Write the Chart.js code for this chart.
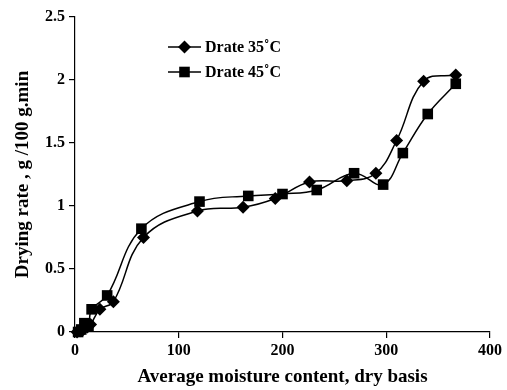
<!DOCTYPE html>
<html>
<head>
<meta charset="utf-8">
<script src="https://cdn.jsdelivr.net/npm/chart.js@4"></script>
<style>
  body { margin: 0; background: #fff; }
  #wrap { width: 507px; height: 390px; }
</style>
</head>
<body>
<div id="wrap"><canvas id="rate-chart" width="507" height="390"></canvas></div>
<script>
// values
const moisture35 = [2, 5, 8, 12, 15, 24, 37, 66, 118, 162, 193, 226, 262, 290, 310, 336, 367];
const rate35 = [0, 0.01, 0.02, 0.04, 0.06, 0.18, 0.24, 0.75, 0.96, 0.99, 1.06, 1.19, 1.20, 1.26, 1.52, 1.99, 2.04];
const moisture45 = [3, 6, 9, 13, 16, 31, 64, 120, 167, 200, 233, 269, 297, 316, 340, 367];
const rate45 = [0, 0.02, 0.07, 0.05, 0.18, 0.29, 0.82, 1.035, 1.08, 1.095, 1.127, 1.26, 1.17, 1.42, 1.73, 1.97];
const seriesNames = ['Drate 35\u02DAC', 'Drate 45\u02DAC'];
const xTicks = [0, 100, 200, 300, 400];
const yTicks = [0, 0.5, 1, 1.5, 2, 2.5];

const fontFamily = '"Liberation Serif", "Times New Roman", serif';

function toPoints(xs, ys) {
    return xs.map((x, i) => ({ x: x, y: ys[i] }));
}

// legend drawn inside the plot, like the original
const insideLegend = {
    id: 'insideLegend',
    afterDatasetsDraw(chart) {
        const ctx = chart.ctx;
        const rows = [
            { y: 47, style: 'rectRot', radius: 6.5 },
            { y: 72, style: 'rect', radius: 7.5 }
        ];
        ctx.save();
        rows.forEach((row, i) => {
            ctx.strokeStyle = '#000';
            ctx.lineWidth = 1.5;
            ctx.beginPath();
            ctx.moveTo(168, row.y);
            ctx.lineTo(201, row.y);
            ctx.stroke();
            ctx.fillStyle = '#000';
            Chart.helpers.drawPoint(ctx, { pointStyle: row.style, radius: row.radius, borderWidth: 0 }, 184.5, row.y);
            ctx.font = 'bold 16px ' + fontFamily;
            ctx.textBaseline = 'middle';
            ctx.textAlign = 'left';
            ctx.fillText(seriesNames[i], 205, row.y + 1);
        });
        ctx.restore();
    }
};

new Chart(document.getElementById('rate-chart'), {
    type: 'scatter',
    data: {
        datasets: [{
            label: seriesNames[0],
            data: toPoints(moisture35, rate35),
            showLine: true,
            tension: 0.4,
            borderColor: '#000',
            borderWidth: 1.5,
            backgroundColor: '#000',
            pointStyle: 'rectRot',
            pointRadius: 6.5,
            pointBorderWidth: 0,
            clip: false
        }, {
            label: seriesNames[1],
            data: toPoints(moisture45, rate45),
            showLine: true,
            tension: 0.4,
            borderColor: '#000',
            borderWidth: 1.5,
            backgroundColor: '#000',
            pointStyle: 'rect',
            pointRadius: 7.5,
            pointBorderWidth: 0,
            clip: false
        }]
    },
    options: {
        responsive: false,
        animation: false,
        layout: { padding: { top: 17, right: 17, left: 0, bottom: 0 } },
        plugins: {
            legend: { display: false },
            tooltip: { enabled: false }
        },
        scales: {
            x: {
                type: 'linear',
                min: 0,
                max: 400,
                afterBuildTicks: axis => { axis.ticks = xTicks.map(v => ({ value: v })); },
                afterFit: axis => { axis.height = 58; },
                grid: { drawOnChartArea: false, tickLength: 6, color: '#000', lineWidth: 1.2 },
                border: { color: '#000', width: 1.2 },
                ticks: {
                    color: '#000',
                    font: { family: fontFamily, size: 16, weight: 'bold' },
                    padding: 3,
                    maxRotation: 0,
                    callback: v => String(v)
                },
                title: {
                    display: true,
                    text: 'Average moisture content, dry basis',
                    color: '#000',
                    font: { family: fontFamily, size: 19, weight: 'bold' },
                    padding: { top: 3, bottom: 2 }
                }
            },
            y: {
                min: 0,
                max: 2.5,
                afterBuildTicks: axis => { axis.ticks = yTicks.map(v => ({ value: v })); },
                afterFit: axis => { axis.width = 75; },
                grid: { drawOnChartArea: false, tickLength: 6, color: '#000', lineWidth: 1.2 },
                border: { color: '#000', width: 1.2 },
                ticks: {
                    color: '#000',
                    font: { family: fontFamily, size: 16, weight: 'bold' },
                    padding: 4,
                    callback: v => String(v)
                },
                title: {
                    display: true,
                    text: 'Drying rate , g /100 g.min',
                    color: '#000',
                    font: { family: fontFamily, size: 19, weight: 'bold' },
                    padding: { top: 12, bottom: 4 }
                }
            }
        }
    },
    plugins: [insideLegend]
});
</script>
</body>
</html>
